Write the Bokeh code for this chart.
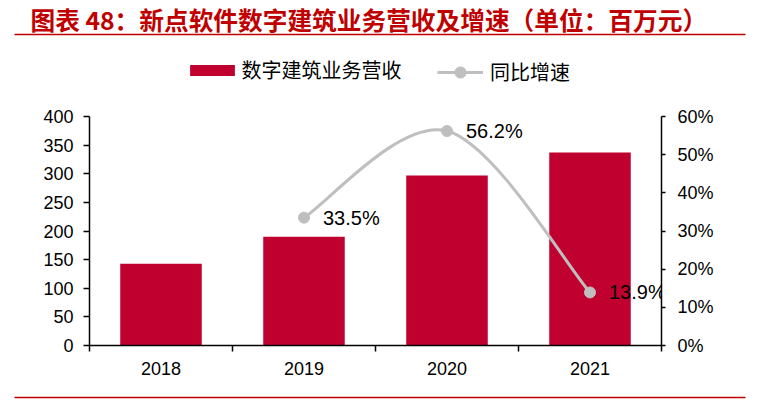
from bokeh.plotting import figure
from bokeh.layouts import column
from bokeh.models import (Range1d, LinearAxis, FixedTicker, NumeralTickFormatter,
                          Legend, LegendItem, ColumnDataSource)
from bokeh.core.properties import value
from bokeh.embed import file_html
from bokeh.resources import INLINE

# ---- data ----
years = ["2018", "2019", "2020", "2021"]
revenue = [143, 190, 297, 337]
growth_years = ["2019", "2020", "2021"]
growth = [0.335, 0.562, 0.139]
left_ticks = [0, 50, 100, 150, 200, 250, 300, 350, 400]
right_ticks = [0.0, 0.1, 0.2, 0.3, 0.4, 0.5, 0.6]
title_text = "图表 48：新点软件数字建筑业务营收及增速（单位：百万元）"
bar_label = "数字建筑业务营收"
line_label = "同比增速"

BAR = "#C0002F"
LINE = "#BFBFBF"
RED = "#C00000"
NUM_FONT = "Liberation Sans"
CJK = "Noto Sans CJK SC"
W = 775
TOP_H = 100
BOT_H = 20
MAIN_H = 406 - TOP_H - BOT_H


def blank_fig(h):
    f = figure(width=W, height=h, output_backend="svg", toolbar_location=None,
               x_range=Range1d(0, W), y_range=Range1d(h, 0),
               x_axis_type=None, y_axis_type=None, frame_align=False,
               min_border=0, min_border_left=0, min_border_right=0,
               min_border_top=0, min_border_bottom=0)
    f.outline_line_color = None
    f.grid.visible = False
    f.background_fill_color = "white"
    f.border_fill_color = "white"
    return f


# ---- header: title, rule, legend ----
top = blank_fig(TOP_H)
top.text(x=[30], y=[18], text=[title_text], text_font=value(CJK), text_font_style="bold",
         text_font_size="24.7px", text_color=RED, text_baseline="middle", text_align="left")
top.segment(x0=[14], y0=[34], x1=[745], y1=[34], line_color=RED, line_width=1.5)

# hidden renderers that only supply the legend swatches
bar_proxy = top.vbar(x=[1], top=[revenue[0]], width=1, fill_color=BAR, line_color=None, visible=False)
line_proxy = top.line(x=[1, 2], y=growth[:2], line_color=LINE, line_width=3, visible=False)
dot_proxy = top.scatter(x=[1], y=[growth[0]], size=11, fill_color=LINE, line_color=LINE, visible=False)


def make_legend(fig, label, renderers, loc, gw, gh, standoff):
    lg = Legend(items=[LegendItem(label=label, renderers=renderers)], location=loc,
                orientation="horizontal", glyph_width=gw, glyph_height=gh,
                label_standoff=standoff, padding=0, margin=0, spacing=0,
                border_line_color=None, background_fill_alpha=0,
                inactive_fill_alpha=0, click_policy="none",
                label_text_font=CJK, label_text_font_size="20px", label_text_color="black")
    fig.add_layout(lg)
    return lg


make_legend(top, bar_label, [bar_proxy], (184.4, TOP_H - 84), 56, 14, 1)
make_legend(top, line_label, [line_proxy, dot_proxy], (437, TOP_H - 86), 46, 28, 7)

# ---- main chart ----
centers = [i + 0.5 for i in range(len(years))]
bounds = [float(i) for i in range(len(years) + 1)]
gx = [centers[years.index(y)] for y in growth_years]

p = figure(width=W, height=MAIN_H, output_backend="svg", toolbar_location=None,
           x_range=Range1d(0, len(years)), y_range=Range1d(0, 400), frame_align=False,
           min_border_left=89, min_border_right=114,
           min_border_top=116 - TOP_H, min_border_bottom=MAIN_H - (345 - TOP_H))
p.outline_line_color = None
p.grid.visible = False
p.background_fill_color = "white"
p.border_fill_color = "white"
p.extra_y_ranges = {"pct": Range1d(0, 0.6)}

bars = p.vbar(x=centers, top=revenue, width=0.57, fill_color=BAR, line_color=None)

# smoothed growth line (Bezier segments derived from the data points)
pts = list(zip(gx, growth))
n = len(pts)
x0, y0, x1, y1, cx0, cy0, cx1, cy1 = [], [], [], [], [], [], [], []
for i in range(n - 1):
    pa = pts[max(i - 1, 0)]
    pb = pts[i]
    pc = pts[i + 1]
    pd = pts[min(i + 2, n - 1)]
    x0.append(pb[0]); y0.append(pb[1])
    x1.append(pc[0]); y1.append(pc[1])
    cx0.append(pb[0] + (pc[0] - pa[0]) / 6); cy0.append(pb[1] + (pc[1] - pa[1]) / 6)
    cx1.append(pc[0] - (pd[0] - pb[0]) / 6); cy1.append(pc[1] - (pd[1] - pb[1]) / 6)
p.bezier(x0=x0, y0=y0, x1=x1, y1=y1, cx0=cx0, cy0=cy0, cx1=cx1, cy1=cy1,
         line_color=LINE, line_width=3, y_range_name="pct")
p.scatter(x=gx, y=growth, size=11, fill_color=LINE, line_color=LINE, y_range_name="pct")

labels_src = ColumnDataSource(dict(x=gx, y=growth, t=[f"{v*100:.1f}%" for v in growth]))
p.text(x="x", y="y", text="t", source=labels_src, y_range_name="pct", x_offset=19,
       text_font=value(NUM_FONT), text_font_size="20px", text_baseline="middle",
       text_align="left", text_color="black")

# axes
ax = p.xaxis[0]
ax.ticker = FixedTicker(ticks=centers, minor_ticks=bounds)
ax.major_label_overrides = {c: y for c, y in zip(centers, years)}
ax.major_tick_out = 0
ax.major_tick_in = 0
ax.minor_tick_out = 6
ax.minor_tick_in = 0
ax.minor_tick_line_color = "black"
ax.minor_tick_line_width = 1.5
ax.axis_line_color = "black"
ax.axis_line_width = 1.5
ax.major_label_standoff = 10
ax.major_label_text_font = NUM_FONT
ax.major_label_text_font_size = "18px"
ax.major_label_text_color = "black"

ay = p.yaxis[0]
ay.ticker = FixedTicker(ticks=left_ticks)
ay.minor_tick_line_color = None
ay.major_tick_out = 6
ay.major_tick_in = 0
ay.major_tick_line_width = 1.5
ay.axis_line_width = 1.5
ay.major_label_standoff = 10
ay.major_label_text_font = NUM_FONT
ay.major_label_text_font_size = "18px"
ay.major_label_text_color = "black"

ar = LinearAxis(y_range_name="pct", ticker=FixedTicker(ticks=right_ticks),
                formatter=NumeralTickFormatter(format="0%"))
ar.minor_tick_line_color = None
ar.major_tick_out = 4
ar.major_tick_in = 0
ar.major_tick_line_width = 1.5
ar.axis_line_width = 1.5
ar.major_label_standoff = 12
ar.major_label_text_font = NUM_FONT
ar.major_label_text_font_size = "18px"
ar.major_label_text_color = "black"
p.add_layout(ar, "right")

# ---- footer rule ----
bot = blank_fig(BOT_H)
bot.segment(x0=[14], y0=[397 - (406 - BOT_H)], x1=[745], y1=[397 - (406 - BOT_H)],
            line_color=RED, line_width=1.5)

layout = column(top, p, bot, spacing=0)
open("out.html", "w").write(file_html(layout, INLINE))
